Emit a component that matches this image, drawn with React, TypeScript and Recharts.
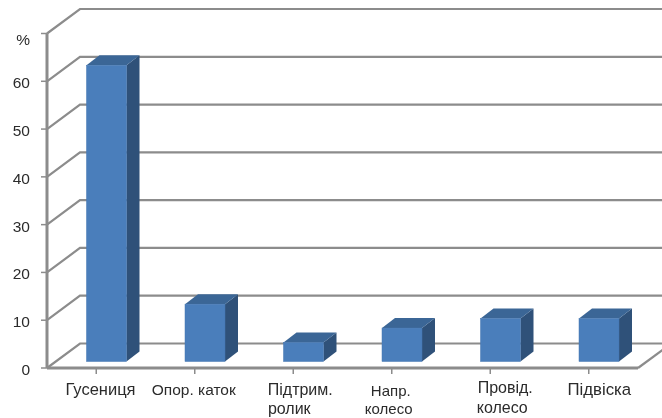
import React from "react";
import { ComposedChart, Bar, XAxis, YAxis, CartesianGrid } from "recharts";

const categories = ["Гусениця", "Опор. каток", "Підтрим. ролик", "Напр. колесо", "Провід. колесо", "Підвіска"];
const values = [62, 12, 4, 7, 9, 9];
const yTicks = [0, 10, 20, 30, 40, 50, 60, 70];
const tickLines = [["Гусениця"], ["Опор. каток"], ["Підтрим.", "ролик"], ["Напр.", "колесо"], ["Провід.", "колесо"], ["Підвіска"]];

const data = categories.map((name, i) => ({ name, value: values[i] }));

const FONT = '"Liberation Sans", Arial, sans-serif';
const GRID = "#8c8c8c";
const TEXT = "#2b2b2b";
const DEPTH_X = 33;
const DEPTH_Y = 24.5;
const BAR_DX = 10.5;
const BAR_DY = 6.5;
const BAR_DEPTH_X = 13;
const BAR_DEPTH_Y = 10;

// label layout per category: x offsets from band centre, baseline offsets, font size
const labelLayout = [
  { dxs: [4.3], ys: [32], size: 16.5 },
  { dxs: [-1], ys: [32], size: 15.5 },
  { dxs: [7, -4], ys: [32, 51], size: 16 },
  { dxs: [-1, -3], ys: [33, 51], size: 15 },
  { dxs: [15, 12], ys: [30, 50], size: 16 },
  { dxs: [10.5], ys: [32], size: 16.8 },
];

function GridLine(props: any) {
  const { x1, x2, y1 } = props;
  const isFloor = y1 > 360;
  return (
    <g fill="none" stroke={GRID} strokeWidth={2.2}>
      <path d={`M${x1},${y1}L${x1 + DEPTH_X},${y1 - DEPTH_Y}L${x2 + 40},${y1 - DEPTH_Y}`} />
      {isFloor && <path d={`M${x2},${y1}L${x2 + 30},${y1 - 22}`} />}
    </g>
  );
}

function Bar3D(props: any) {
  const { x, y, width, height } = props;
  const l = x + BAR_DX;
  const r = l + width;
  const t = y - BAR_DY;
  const b = y + height - BAR_DY;
  const dx = BAR_DEPTH_X;
  const dy = BAR_DEPTH_Y;
  return (
    <g>
      <path d={`M${r},${t}L${r + dx},${t - dy}L${r + dx},${b - dy}L${r},${b}Z`} fill="#2f5179" />
      <path d={`M${l},${t}L${l + dx},${t - dy}L${r + dx},${t - dy}L${r},${t}Z`} fill="#3b6696" />
      <rect x={l} y={t} width={width} height={b - t} fill="#4a7ebb" stroke="#4577b2" strokeWidth={0.5} />
    </g>
  );
}

function XTick(props: any) {
  const { x, index } = props;
  const layout = labelLayout[index];
  const lines = tickLines[index] ?? [];
  if (!layout) return null;
  return (
    <g>
      {lines.map((t, i) => (
        <text key={t} x={x + layout.dxs[i]} y={363 + layout.ys[i]} fontFamily={FONT} fontSize={layout.size} fill={TEXT} textAnchor="middle">
          {t}
        </text>
      ))}
    </g>
  );
}

function YTick(props: any) {
  const { y, payload } = props;
  const isTop = payload.value === yTicks[yTicks.length - 1];
  return (
    <text x={30} y={y + (isTop ? 11 : 7)} textAnchor="end" fontFamily={FONT} fontSize={15.5} fill={TEXT}>
      {isTop ? "%" : payload.value}
    </text>
  );
}

export default function App() {
  return (
    <div style={{ position: "absolute", left: 0, top: 0, width: 662, height: 418, background: "#fff", overflow: "hidden", filter: "blur(0.35px)" }}>
      <ComposedChart
        width={662}
        height={418}
        data={data}
        barCategoryGap={0}
        margin={{ top: 33.5, right: 24, bottom: 0, left: 0 }}
      >
        <CartesianGrid vertical={false} horizontal={(p: any) => <GridLine {...p} />} />
        <XAxis
          dataKey="name"
          interval={0}
          tick={<XTick />}
          tickSize={6}
          axisLine={{ stroke: GRID, strokeWidth: 3 }}
          tickLine={{ stroke: GRID, strokeWidth: 1.5 }}
          height={50}
        />
        <YAxis
          width={47}
          domain={[0, 70]}
          ticks={yTicks}
          interval={0}
          tick={<YTick />}
          tickSize={6}
          axisLine={{ stroke: GRID, strokeWidth: 3 }}
          tickLine={{ stroke: GRID, strokeWidth: 1.5 }}
        />
        <Bar dataKey="value" barSize={40} isAnimationActive={false} shape={<Bar3D />} />
      </ComposedChart>
    </div>
  );
}
